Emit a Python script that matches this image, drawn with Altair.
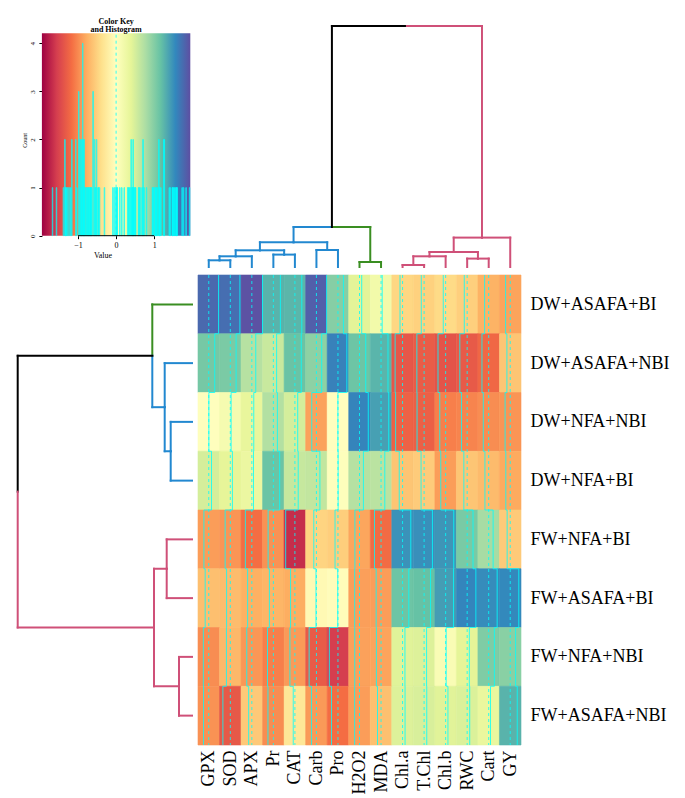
import altair as alt
import pandas as pd

SERIF = "Liberation Serif"
CYAN = "#00ffff"
SPECTRAL = ["#9e0142", "#d53e4f", "#f46d43", "#fdae61", "#fee08b", "#ffffbf",
            "#e6f598", "#abdda4", "#66c2a5", "#3288bd", "#5e4fa2"]
CLUSTER_COLORS = {"blue": "#2288d0", "green": "#3a8e22", "pink": "#cf5078", "root": "#000000"}

# ---------------- data ----------------
columns = ["GPX", "SOD", "APX", "Pr", "CAT", "Carb", "Pro", "H2O2", "MDA",
           "Chl.a", "T.Chl", "Chl.b", "RWC", "Cart", "GY"]
treatments = ["DW+ASAFA+BI", "DW+ASAFA+NBI", "DW+NFA+NBI", "DW+NFA+BI",
              "FW+NFA+BI", "FW+ASAFA+BI", "FW+NFA+NBI", "FW+ASAFA+NBI"]

dw_asafa_bi  = [1.77, 1.74, 1.93, 1.27, 1.25, 1.84, 0.99, 0.40, 0.21, -0.46, -0.51, -0.43, -0.52, -0.74, -0.84]
dw_asafa_nbi = [1.08, 1.05, 0.71, 0.59, 1.15, 0.95, 1.61, 1.13, 1.26, -1.35, -1.31, -1.38, -1.33, -1.22, -0.60]
dw_nfa_nbi   = [0.02, 0.15, 0.35, 0.73, 0.51, -0.85, -0.01, 1.59, 1.40, -1.26, -1.28, -1.06, -1.03, -0.98, -0.93]
dw_nfa_bi    = [0.50, 0.38, 0.30, 1.14, 0.60, 0.63, 0.03, 0.71, 0.68, -0.60, -0.55, -0.88, -0.60, -0.68, -0.80]
fw_nfa_bi    = [-0.88, -0.93, -1.17, -0.95, -1.67, -0.48, -0.53, -0.83, -1.19, 1.49, 1.51, 1.47, 1.06, 0.80, -0.56]
fw_asafa_bi  = [-0.65, -0.67, -0.76, -0.72, -0.78, -0.08, -0.04, -0.87, -0.88, 1.13, 1.17, 1.42, 1.58, 1.53, 1.55]
fw_nfa_nbi   = [-0.98, -0.70, -0.92, -1.06, -0.90, -1.32, -1.56, -0.86, -0.84, 0.43, 0.45, 0.10, 0.39, 1.03, 0.97]
fw_asafa_nbi = [-0.95, -1.34, -0.57, -0.98, -0.30, -0.90, -1.17, -0.88, -0.64, 0.45, 0.48, 0.42, 0.46, 0.33, 1.27]
matrix = [dw_asafa_bi, dw_asafa_nbi, dw_nfa_nbi, dw_nfa_bi,
          fw_nfa_bi, fw_asafa_bi, fw_nfa_nbi, fw_asafa_nbi]

# dendrogram merges: (child_a, child_b, height); ints = leaves, "nK" = K-th merge
col_merges = [(0, 1, 0.67), ("n0", 2, 1.07), (3, 4, 1.24), ("n1", "n2", 1.67),
              (5, 6, 1.70), ("n3", "n4", 2.47), (7, 8, 0.50), ("n5", "n6", 4.00),
              (9, 10, 0.20), ("n8", 11, 1.07), (12, 13, 0.84), ("n9", "n10", 1.50),
              ("n11", 14, 2.94), ("n7", "n12", 24.10)]
col_clusters = ["blue"] * 7 + ["green"] * 2 + ["pink"] * 6
row_merges = [(2, 3, 2.13), (1, "n0", 2.73), (0, "n1", 3.97), (4, 5, 2.53),
              (6, 7, 1.30), ("n3", "n4", 3.80), ("n2", "n5", 17.43)]
row_clusters = ["green"] + ["blue"] * 3 + ["pink"] * 4

KEY_LO, KEY_HI = -1.95, 1.95
BIN_W = 0.013

# ---------------- tables ----------------
cells = []
for r, name in enumerate(treatments):
    for c, col in enumerate(columns):
        cells.append(dict(row=name, col=col, r=r, c=c, v=matrix[r][c],
                          x0=c, x1=c + 1, y0=r, y1=r + 1))
df = pd.DataFrame(cells)

trace = []
for c, col in enumerate(columns):
    xt = [c + (matrix[r][c] - KEY_LO) / (KEY_HI - KEY_LO) for r in range(len(treatments))]
    for k in range(len(treatments) + 1):
        trace.append(dict(col=col, k=k, tx=xt[max(k - 1, 0)], ty=k))
df_trace = pd.DataFrame(trace)
df_center = pd.DataFrame([dict(col=col, tx=c + (0 - KEY_LO) / (KEY_HI - KEY_LO), ty=0,
                               ty2=len(treatments)) for c, col in enumerate(columns)])


def dendro_segments(merges, clusters):
    pos = {i: i + 0.5 for i in range(len(clusters))}
    hgt = {i: 0.0 for i in range(len(clusters))}
    mem = {i: {cl} for i, cl in enumerate(clusters)}
    segs = []
    for k, (a, b, h) in enumerate(merges):
        nid = f"n{k}"
        pos[nid] = (pos[a] + pos[b]) / 2
        hgt[nid] = h
        mem[nid] = mem[a] | mem[b]
        for ch in (a, b):
            clr = next(iter(mem[ch])) if len(mem[ch]) == 1 else "root"
            segs.append(dict(p=pos[nid], p2=pos[ch], h=h, h2=h, clr=clr))
            segs.append(dict(p=pos[ch], p2=pos[ch], h=h, h2=hgt[ch], clr=clr))
    return pd.DataFrame(segs)


df_cd = dendro_segments(col_merges, col_clusters)
df_rd = dendro_segments(row_merges, row_clusters)

# ---------------- scales ----------------
NC, NR = len(columns), len(treatments)
HEAT_W, HEAT_H = 323, 470
LEFT_W, TOP_H = 179, 254

xs = alt.Scale(domain=[0, NC], nice=False, zero=False)
ys = alt.Scale(domain=[0, NR], nice=False, zero=False, reverse=True)
color_dom = [KEY_LO + i * (KEY_HI - KEY_LO) / 10 for i in range(11)]
cscale = alt.Scale(domain=color_dom, range=SPECTRAL, interpolate="rgb", clamp=True)
dcolor = alt.Scale(domain=list(CLUSTER_COLORS.keys()), range=list(CLUSTER_COLORS.values()))

col_expr = "[" + ",".join(f"'{c}'" for c in columns) + "][floor(datum.value)]"
row_expr = "[" + ",".join(f"'{t}'" for t in treatments) + "][floor(datum.value)]"

hx_axis = alt.Axis(values=[i + 0.5 for i in range(NC)], labelExpr=col_expr, labelAngle=-90,
                   labelFont=SERIF, labelFontSize=18, labelColor="black", ticks=False,
                   domain=False, grid=False, labelPadding=5, title=None, labelFlush=False,
                   labelOverlap=False, labelBound=False)
hy_axis = alt.Axis(values=[i + 0.5 for i in range(NR)], labelExpr=row_expr, orient="right",
                   labelFont=SERIF, labelFontSize=18, labelColor="black", ticks=False,
                   domain=False, grid=False, labelPadding=9, title=None, labelFlush=False,
                   labelOverlap=False, labelBound=False, labelAlign="left")

# ---------------- heatmap ----------------
rects = alt.Chart(df).mark_rect(strokeWidth=0.6).encode(
    x=alt.X("x0:Q", scale=xs, axis=hx_axis), x2="x1:Q",
    y=alt.Y("y0:Q", scale=ys, axis=hy_axis), y2="y1:Q",
    color=alt.Color("v:Q", scale=cscale, legend=None),
    stroke=alt.Stroke("v:Q", scale=cscale, legend=None),
)
centers = alt.Chart(df_center).mark_rule(color=CYAN, strokeDash=[3, 3], strokeWidth=1, opacity=0.8).encode(
    x=alt.X("tx:Q", scale=xs, axis=hx_axis),
    y=alt.Y("ty:Q", scale=ys, axis=hy_axis), y2="ty2:Q",
)
traces = alt.Chart(df_trace).mark_line(color=CYAN, strokeWidth=1, interpolate="step-after", opacity=0.8).encode(
    x=alt.X("tx:Q", scale=xs, axis=hx_axis),
    y=alt.Y("ty:Q", scale=ys, axis=hy_axis),
    detail="col:N", order="k:Q",
)
heat = alt.layer(rects, centers, traces).properties(width=HEAT_W, height=HEAT_H)

# ---------------- column dendrogram ----------------
coldend = alt.Chart(df_cd).mark_rule(strokeWidth=2, strokeCap="square").encode(
    x=alt.X("p:Q", scale=xs, axis=None), x2="p2:Q",
    y=alt.Y("h:Q", scale=alt.Scale(domain=[0, TOP_H / 10], nice=False, zero=False), axis=None), y2="h2:Q",
    color=alt.Color("clr:N", scale=dcolor, legend=None),
).properties(width=HEAT_W, height=TOP_H)

# ---------------- row dendrogram ----------------
rowdend = alt.Chart(df_rd).mark_rule(strokeWidth=2, strokeCap="square").encode(
    x=alt.X("h:Q", scale=alt.Scale(domain=[0, LEFT_W / 10], nice=False, zero=False, reverse=True), axis=None),
    x2="h2:Q",
    y=alt.Y("p:Q", scale=ys, axis=None), y2="p2:Q",
    color=alt.Color("clr:N", scale=dcolor, legend=None),
).properties(width=LEFT_W, height=HEAT_H)

# ---------------- colour key + histogram ----------------
KPX = 148.4 / (KEY_HI - KEY_LO)          # pixels per value unit
KEY_LEFT = 28.9                          # key's left edge inside its panel
kx = alt.Scale(domain=[KEY_LO - KEY_LEFT / KPX, KEY_LO + (LEFT_W - KEY_LEFT) / KPX], nice=False, zero=False)
CPX = 48.1                               # pixels per count
ZERO_Y = 222.7                           # count 0 inside the panel
ky = alt.Scale(domain=[-(TOP_H - ZERO_Y) / CPX, ZERO_Y / CPX], nice=False, zero=False, clamp=True)
count_ticks = [0, 1, 2, 3, 4]
value_ticks = [-1, 0, 1]
key_top = max(count_ticks) / 0.95

kx_axis = alt.Axis(values=value_ticks, format="d", title="Value", titleFont=SERIF, titleFontSize=8,
                   titleFontWeight="normal", titleColor="black", labelFont=SERIF, labelFontSize=8,
                   labelColor="black", tickSize=3, tickColor="black", labelPadding=3, titlePadding=2,
                   domain=False, grid=False, offset=-(TOP_H - ZERO_Y), labelFlush=False)
ky_axis = alt.Axis(values=count_ticks, format="d", title="Count", titleFont=SERIF, titleFontSize=6,
                   titleFontWeight="normal", titleColor="black", labelFont=SERIF, labelFontSize=7,
                   labelColor="black", labelAngle=-90, tickSize=3, tickColor="black", labelPadding=3,
                   titlePadding=1, domain=False, grid=False, offset=-KEY_LEFT, labelFlush=False)

grad = alt.Gradient(gradient="linear", x1=0, x2=1, y1=0, y2=0,
                    stops=[alt.GradientStop(color=c, offset=i / 10) for i, c in enumerate(SPECTRAL)])
key_box = alt.Chart(pd.DataFrame([dict(a=KEY_LO, b=KEY_HI, lo=0.0, hi=key_top)])).mark_rect(fill=grad).encode(
    x=alt.X("a:Q", scale=kx, axis=kx_axis), x2="b:Q",
    y=alt.Y("lo:Q", scale=ky, axis=ky_axis), y2="hi:Q",
)
hist = alt.Chart(df).transform_calculate(
    b0=f"floor((datum.v - ({KEY_LO})) / {BIN_W}) * {BIN_W} + ({KEY_LO})"
).transform_aggregate(n="count()", groupby=["b0"]).transform_calculate(
    b1=f"datum.b0 + {BIN_W}", zero="0"
).mark_rect(fill=CYAN, stroke=CYAN, strokeWidth=1, opacity=0.75).encode(
    x=alt.X("b0:Q", scale=kx, axis=kx_axis), x2="b1:Q",
    y=alt.Y("zero:Q", scale=ky, axis=ky_axis), y2="n:Q",
)
key_vline = alt.Chart(pd.DataFrame([dict(a=0.0, lo=0.0, hi=key_top)])).mark_rule(
    color=CYAN, strokeDash=[3, 3], strokeWidth=1, opacity=0.8).encode(
    x=alt.X("a:Q", scale=kx, axis=kx_axis),
    y=alt.Y("lo:Q", scale=ky, axis=ky_axis), y2="hi:Q",
)
key_axis_line = alt.Chart(pd.DataFrame([dict(a=min(value_ticks), b=max(value_ticks), lo=0.0)])).mark_rule(
    color="black", strokeWidth=1).encode(
    x=alt.X("a:Q", scale=kx, axis=kx_axis), x2="b:Q",
    y=alt.Y("lo:Q", scale=ky, axis=ky_axis),
)
t1 = alt.Chart(pd.DataFrame([dict(a=0.0, t="Color Key")])).mark_text(
    font=SERIF, fontSize=8, fontWeight="bold", color="black", align="center", baseline="alphabetic").encode(
    x=alt.X("a:Q", scale=kx, axis=kx_axis), y=alt.value(10.5), text="t:N")
t2 = alt.Chart(pd.DataFrame([dict(a=0.0, t="and Histogram")])).mark_text(
    font=SERIF, fontSize=8, fontWeight="bold", color="black", align="center", baseline="alphabetic").encode(
    x=alt.X("a:Q", scale=kx, axis=kx_axis), y=alt.value(19), text="t:N")
key = alt.layer(key_box, hist, key_vline, key_axis_line, t1, t2).properties(width=LEFT_W, height=TOP_H)

chart = alt.concat(
    key, coldend, rowdend, heat,
    columns=2, spacing={"row": 8, "column": 6}, bounds="flush", align="each",
).properties(
    padding={"left": 5, "top": 5, "right": 5, "bottom": 0},
).configure_view(stroke=None)

chart.save("out.html", embed_options={"renderer": "svg", "actions": False})
